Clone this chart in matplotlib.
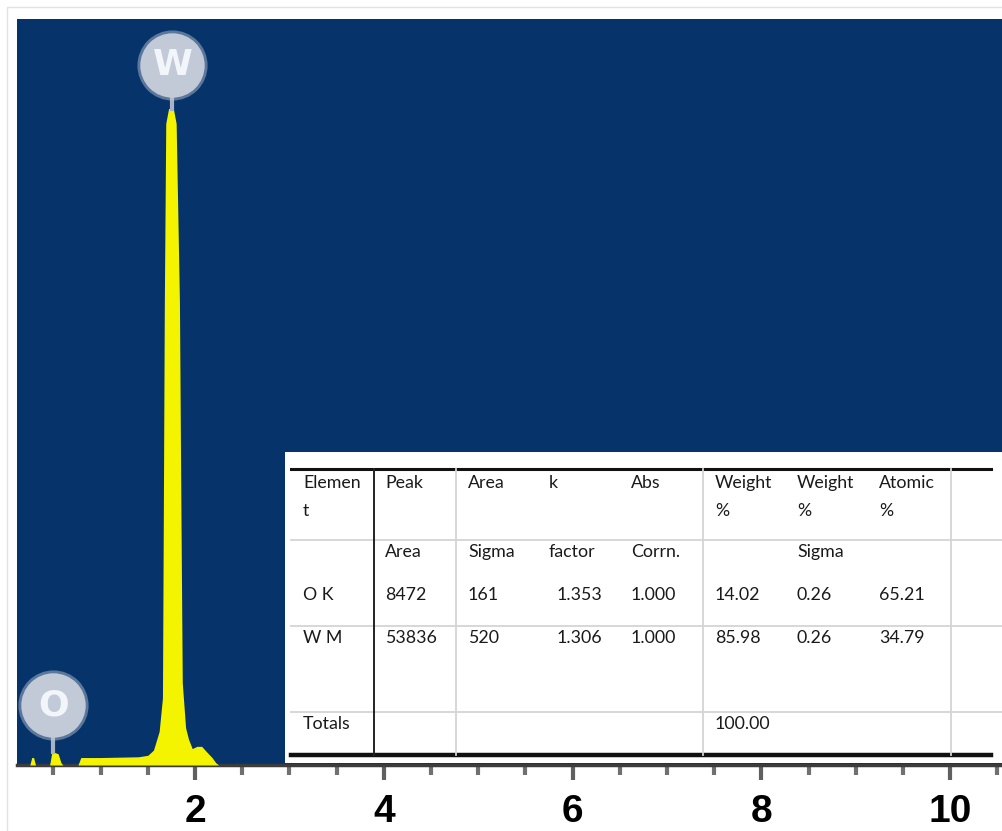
import numpy as np
import matplotlib.pyplot as plt
from matplotlib.patches import Rectangle
from matplotlib.ticker import MultipleLocator

# spectrum (energy keV, counts in % of full scale)
energy = [0.10, 0.25, 0.27, 0.29, 0.31, 0.46, 0.48, 0.51, 0.55, 0.58, 0.60,
          0.76, 0.79, 1.00, 1.40, 1.50, 1.56, 1.62, 1.655, 1.665, 1.675, 1.69,
          1.72, 1.77, 1.80, 1.835, 1.85, 1.865, 1.90, 1.93, 1.97, 2.02, 2.07,
          2.12, 2.18, 2.22, 2.25, 10.6]
counts = [0.0, 0.0, 1.0, 1.0, 0.0, 0.0, 1.5, 1.7, 1.5, 0.3, 0.0,
          0.0, 1.0, 1.0, 1.1, 1.3, 2.0, 4.5, 9.0, 35.0, 62.0, 86.0,
          88.0, 88.0, 86.0, 62.0, 35.0, 11.0, 5.0, 3.5, 2.2, 2.5, 2.5,
          1.8, 1.0, 0.3, 0.0, 0.0]

peak_labels = ['W', 'O']
peak_energy = [1.76, 0.50]
peak_top = [88.0, 1.7]
label_height = [93.8, 8.0]

x_ticks = [2, 4, 6, 8, 10]

header1 = ['Elemen', 'Peak', 'Area', 'k', 'Abs', 'Weight', 'Weight', 'Atomic']
header2 = ['t', '', '', '', '', '%', '%', '%']
header3 = ['', 'Area', 'Sigma', 'factor', 'Corrn.', '', 'Sigma', '']
row_ok = ['O K', '8472', '161', '1.353', '1.000', '14.02', '0.26', '65.21']
row_wm = ['W M', '53836', '520', '1.306', '1.000', '85.98', '0.26', '34.79']
row_tot = ['Totals', '', '', '', '', '100.00', '', '']

W, H = 1003, 831
fig = plt.figure(figsize=(W/100, H/100), dpi=100)
fig.patch.set_facecolor('white')

ax = fig.add_axes([17/W, 1-765/H, (W-17)/W, (765-19)/H])
ax.set_facecolor('#06346a')
ax.fill_between(energy, counts, 0, color='#f4f400', lw=0, zorder=3)
ax.set_xlim(0.114, 10.56)
ax.set_ylim(0, 100)

for lab, e, top, h in zip(peak_labels, peak_energy, peak_top, label_height):
    ax.plot([e, e], [top, h], color='#a9b3c4', lw=3, zorder=4)
    ax.scatter([e], [h], s=2550, color='#c3cad7', alpha=0.45, lw=0, zorder=5)
    ax.scatter([e], [h], s=2150, color='#c3cad7', lw=0, zorder=5)
    ax.text(e, h, lab, ha='center', va='center', fontsize=26, fontweight='bold',
            color='#f2f6fb', family='DejaVu Sans', zorder=6)

ax.xaxis.set_minor_locator(MultipleLocator(0.5))
ax.set_xticks(x_ticks)
ax.set_xticklabels([str(t) for t in x_ticks], fontsize=28, fontweight='bold', family='Liberation Sans')
ax.tick_params(axis='x', which='major', length=11, width=3, color='#606060', pad=10)
ax.tick_params(axis='x', which='minor', length=7, width=3, color='#707070')
ax.set_yticks([])
for s in ['top', 'right', 'left']:
    ax.spines[s].set_visible(False)
ax.spines['bottom'].set_color('#3c3c3c')
ax.spines['bottom'].set_linewidth(2.5)

# overlay in pixel coordinates for the results table
ov = fig.add_axes([0, 0, 1, 1], zorder=10)
ov.set_xlim(0, W)
ov.set_ylim(H, 0)
ov.axis('off')
ov.patch.set_alpha(0)

ov.add_patch(Rectangle((7, 7), W, H, fill=False, edgecolor='#e2e2e2', lw=1))
ov.add_patch(Rectangle((285, 452), W-285, 311, facecolor='white', edgecolor='none'))

ov.plot([291, 991], [469, 469], color='#111111', lw=2.2)
ov.plot([291, 991], [755, 755], color='#111111', lw=3.2)
for yy in [540, 626, 712]:
    ov.plot([291, 1003], [yy, yy], color='#d4d4d4', lw=1.3)
ov.plot([374.5, 374.5], [469, 755], color='#222222', lw=1.4)
for xx in [456.5, 703, 951]:
    ov.plot([xx, xx], [469, 755], color='#d4d4d4', lw=1.3)

col_x = [303, 385, 468, 549, 631, 715, 797, 879]
rows = [(header1, 483), (header2, 511), (header3, 552), (row_ok, 595), (row_wm, 638), (row_tot, 724)]
for vals, yy in rows:
    for i, (v, xx) in enumerate(zip(vals, col_x)):
        if i == 3 and v and v[0].isdigit():
            ov.text(602, yy, v, ha='right', va='center', fontsize=12.8, color='#1a1a1a', family='Lato')
        else:
            ov.text(xx, yy, v, ha='left', va='center', fontsize=12.8, color='#1a1a1a', family='Lato')

fig.savefig('out.png', dpi=100)
